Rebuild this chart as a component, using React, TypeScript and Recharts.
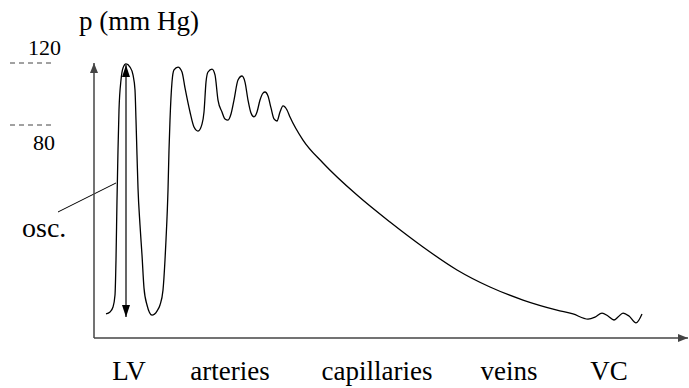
import React from 'react';
import { LineChart, Line, XAxis, YAxis, ReferenceLine, ReferenceDot } from 'recharts';

// position along the circulation (arbitrary units from the pressure axis)
const positions = [
  12, 16, 19, 21, 22, 23, 24, 25, 27, 29, 32, 36, 39, 41, 42, 43, 44, 46, 48, 50,
  53, 58, 63, 66, 69, 71, 72, 74, 75, 76, 78, 80, 84, 88, 91, 96, 100, 104, 108, 110,
  112, 114, 118, 121, 124, 128, 131, 134, 137, 140, 144, 148, 151, 154, 157, 160, 163, 166, 169, 171,
  174, 177, 180, 183, 186, 189, 193, 196, 209, 229, 263, 296, 329, 363, 396, 429, 463, 479,
  494, 501, 508, 514, 520, 524, 529, 535, 542, 548,
];

// pressure (mm Hg, schematic)
const pressures = [
  -41.9, -40.6, -37.4, -29.7, -7.1, 31.6, 63.9, 89.7, 109.0, 116.8, 119.4, 117.4, 112.3, 102.6, 83.2, 60.6, 39.4, 15.5, -3.9, -25.2,
  -36.1, -42.6, -40.0, -36.1, -26.5, -7.1, 5.8, 38.1, 63.9, 83.2, 107.7, 115.5, 117.4, 114.2, 103.9, 88.4, 78.7, 76.1, 80.6, 88.4,
  107.7, 114.2, 116.1, 112.3, 96.1, 88.4, 83.9, 83.2, 87.1, 96.1, 109.0, 111.6, 107.7, 96.1, 87.7, 85.2, 88.4, 96.1, 100.6, 101.3,
  98.7, 91.0, 83.9, 82.6, 88.4, 92.3, 89.7, 85.2, 70.3, 55.5, 34.8, 17.4, 1.3, -13.5, -24.5, -32.9, -39.4, -41.9,
  -45.2, -43.9, -41.3, -43.2, -45.8, -43.9, -41.3, -43.2, -47.7, -41.9,
];

const regionNames = ['LV', 'arteries', 'capillaries', 'veins', 'VC'];
const regionCenters = [35, 136, 283, 415, 515];

const pressureTicks = [120, 80];

// double arrow showing the LV oscillation, and the pointer to it
const oscArrow = { x: 32, top: 118.7, bottom: -43.9 };
const oscPointer = [{ x: -36, y: 23.9 }, { x: 22, y: 42.6 }];
const oscLabel = { x: -72, y: 7.7 };

const data = positions.map((x, i) => ({ x, p: pressures[i] }));

const serif = 'Liberation Serif, Times New Roman, serif';
const axisColor = '#444';

function PressureTick(props: any) {
  const { x, y, payload } = props;
  const above = payload.value === pressureTicks[0];
  return (
    <g>
      <line x1={x - 84} x2={x - 39} y1={y} y2={y} stroke={axisColor} strokeWidth={1} strokeDasharray="5 4" />
      <text
        x={above ? x - 33 : x - 39}
        y={above ? y - 8 : y + 25}
        textAnchor="end"
        style={{ fontFamily: serif, fontSize: 22 }}
        fill="#000"
      >
        {payload.value}
      </text>
    </g>
  );
}

function RegionTick(props: any) {
  const { x, y, payload } = props;
  const name = regionNames[regionCenters.indexOf(payload.value)];
  return (
    <text x={x} y={y + 42} textAnchor="middle" style={{ fontFamily: serif, fontSize: 27 }} fill="#000">
      {name}
    </text>
  );
}

function AxisTitle(props: any) {
  const { viewBox } = props;
  return (
    <text x={viewBox.x + 79} y={viewBox.y - 33} style={{ fontFamily: serif, fontSize: 27 }} fill="#000">
      p (mm Hg)
    </text>
  );
}

export default function App() {
  return (
    <div style={{ position: 'absolute', left: 0, top: 0, fontFamily: serif }}>
      <LineChart width={689} height={388} data={data} margin={{ top: 63, right: 1, bottom: 0, left: 0 }}>
        <defs>
          <marker
            id="axisArrow"
            viewBox="0 0 10 8"
            refX={10}
            refY={4}
            markerWidth={10}
            markerHeight={8}
            markerUnits="userSpaceOnUse"
            orient="auto-start-reverse"
          >
            <path d="M0,0 L10,4 L0,8 z" fill={axisColor} />
          </marker>
          <marker
            id="oscArrow"
            viewBox="0 0 12 8"
            refX={12}
            refY={4}
            markerWidth={12}
            markerHeight={8}
            markerUnits="userSpaceOnUse"
            orient="auto-start-reverse"
          >
            <path d="M0,0 L12,4 L0,8 z" fill="#000" />
          </marker>
        </defs>
        <XAxis
          type="number"
          dataKey="x"
          domain={[0, 594]}
          ticks={regionCenters}
          tick={<RegionTick />}
          tickLine={false}
          tickSize={0}
          tickMargin={0}
          height={50}
          axisLine={{ stroke: axisColor, strokeWidth: 1.5, markerEnd: 'url(#axisArrow)' }}
          allowDataOverflow
        />
        <YAxis
          type="number"
          domain={[-57.4, 120]}
          ticks={pressureTicks}
          tick={<PressureTick />}
          tickLine={false}
          tickSize={0}
          tickMargin={0}
          width={94}
          axisLine={{ stroke: axisColor, strokeWidth: 1.5, markerStart: 'url(#axisArrow)' }}
          label={{ value: 'p (mm Hg)', content: <AxisTitle /> }}
          allowDataOverflow
        />
        <ReferenceLine
          segment={[{ x: oscArrow.x, y: oscArrow.top }, { x: oscArrow.x, y: oscArrow.bottom }]}
          stroke="#000"
          strokeWidth={1.2}
          markerStart="url(#oscArrow)"
          markerEnd="url(#oscArrow)"
          ifOverflow="visible"
        />
        <ReferenceLine
          segment={oscPointer}
          stroke="#000"
          strokeWidth={1}
          ifOverflow="visible"
        />
        <ReferenceDot
          x={oscLabel.x}
          y={oscLabel.y}
          r={0}
          ifOverflow="visible"
          shape={(p: any) => (
            <text x={p.cx} y={p.cy} style={{ fontFamily: serif, fontSize: 28 }} fill="#000">
              osc.
            </text>
          )}
        />
        <Line
          type="monotone"
          dataKey="p"
          stroke="#000"
          strokeWidth={1.3}
          dot={false}
          isAnimationActive={false}
        />
      </LineChart>
    </div>
  );
}
